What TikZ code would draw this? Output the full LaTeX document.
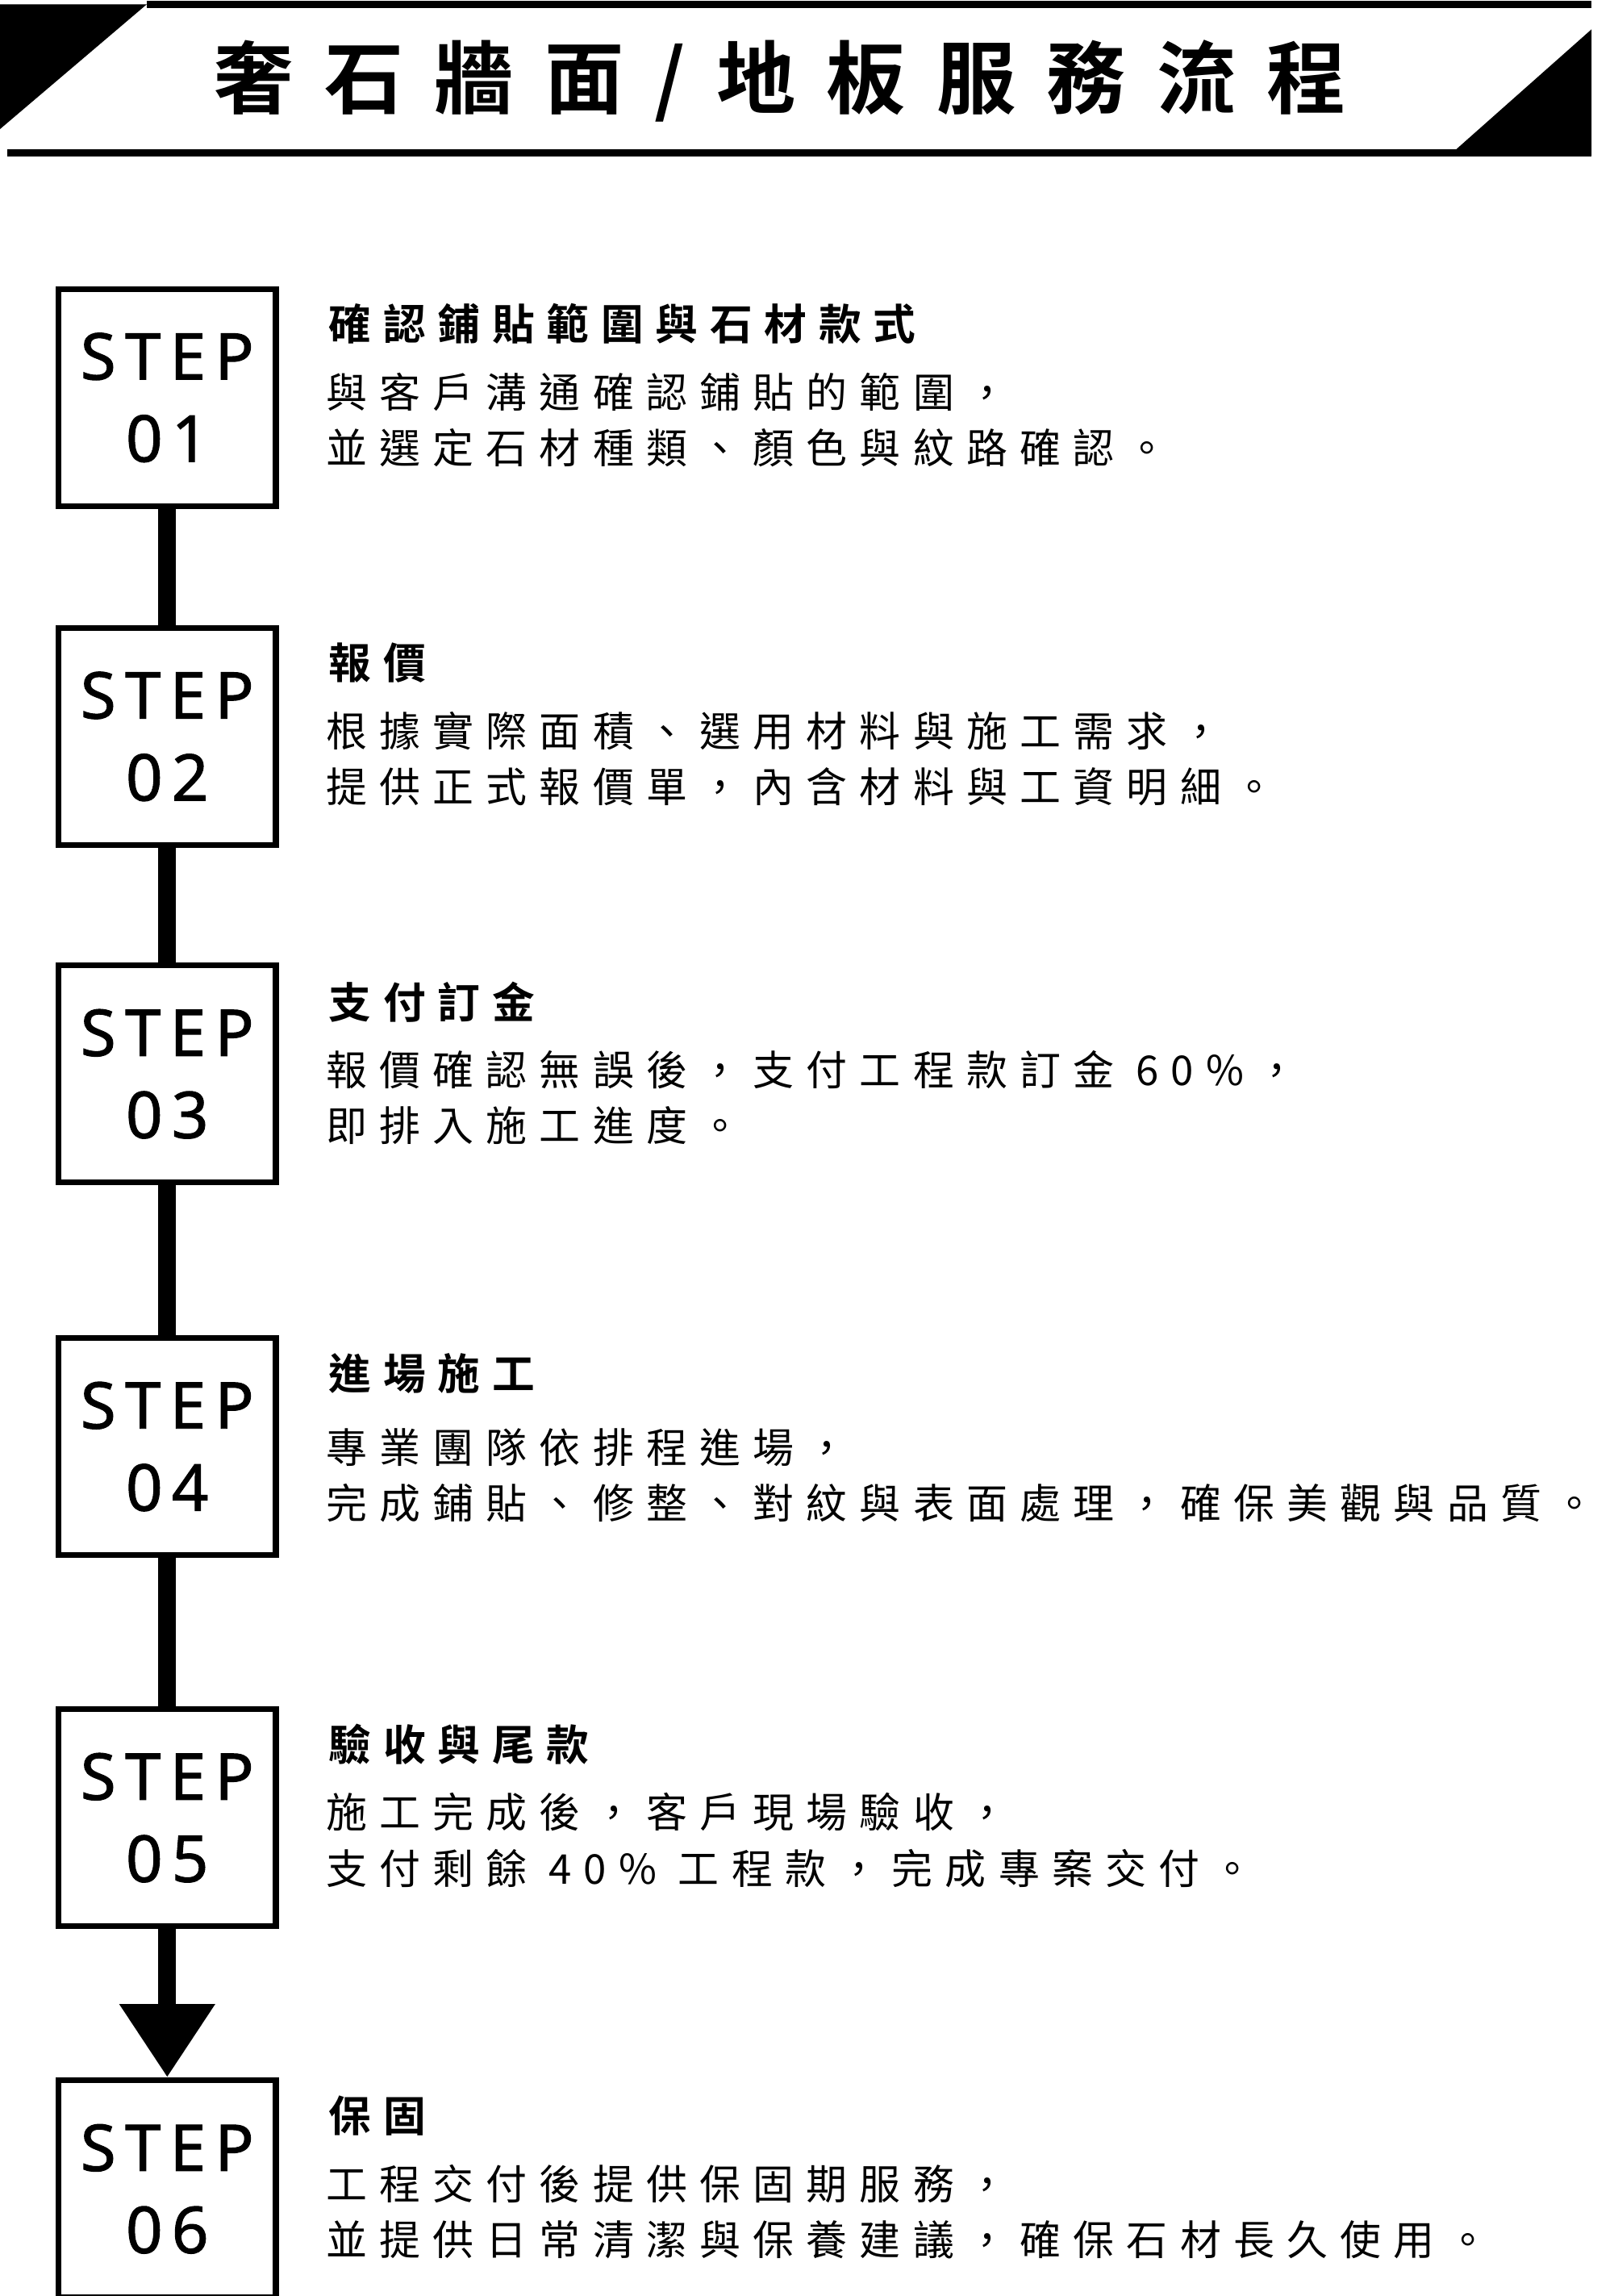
\documentclass[tikz,border=0pt]{standalone}
\usepackage{fontspec}
\usetikzlibrary{arrows.meta}
\newfontfamily\cjk[LetterSpace=30]{Noto Sans CJK TC}
\newfontfamily\cjkbold[LetterSpace=28]{Noto Sans CJK TC Bold}
\newfontfamily\titlefont[LetterSpace=39]{Noto Sans CJK TC Bold}
\newfontfamily\stepfont[LetterSpace=14,FakeBold=1.2]{Noto Sans}

\begin{document}
\begin{tikzpicture}[x=1pt,y=-1pt,
    stepbox/.style={draw,line width=4pt,minimum width=148pt,minimum height=148pt,
      inner sep=0pt,align=center,font=\stepfont\fontsize{44}{56}\selectfont},
    head/.style={anchor=base west,inner sep=0pt,font=\cjkbold\fontsize{29}{30}\selectfont},
    body/.style={anchor=base west,inner sep=0pt,font=\cjk\fontsize{28}{30}\selectfont},
    link/.style={line width=12pt}]
    \useasboundingbox (0,0) rectangle (1100,1565);

    % Title bar
    \fill (0,3) -- (100,3) -- (0,88) -- cycle;
    \draw[line width=5pt] (100,3) -- (1085,3);
    \draw[line width=5pt] (5,104) -- (1085,104);
    \fill (1085,20) -- (1085,106) -- (988,106) -- cycle;
    \node[font=\titlefont\fontsize{54}{60}\selectfont,inner sep=0pt] (title) at (532,55)
      {奢石牆面/地板服務流程};

    % Step boxes
    \foreach \n/\y in {1/271,2/502,3/732,4/986,5/1239,6/1492}
      \node[stepbox] (s\n) at (114,\y) {STEP\\0\n};

    % Connectors
    \foreach \a/\b in {1/2,2/3,3/4,4/5}
      \draw[link] (s\a.south) -- (s\b.north);
    \draw[link,-{Triangle[width=62pt,length=50pt]}] (s5.south) -- (s6.north);

    % Texts
    \node[head] (h1) at (224,232) {確認鋪貼範圍與石材款式};
    \node[body] (t1a) at (222,278) {與客戶溝通確認鋪貼的範圍，};
    \node[body] (t1b) at (222,316) {並選定石材種類、顏色與紋路確認。};

    \node[head] (h2) at (224,463) {報價};
    \node[body] (t2a) at (222,509) {根據實際面積、選用材料與施工需求，};
    \node[body] (t2b) at (222,547) {提供正式報價單，內含材料與工資明細。};

    \node[head] (h3) at (224,694) {支付訂金};
    \node[body] (t3a) at (222,740) {報價確認無誤後，支付工程款訂金 60\%，};
    \node[body] (t3b) at (222,778) {即排入施工進度。};

    \node[head] (h4) at (224,947) {進場施工};
    \node[body] (t4a) at (222,997) {專業團隊依排程進場，};
    \node[body] (t4b) at (222,1035) {完成鋪貼、修整、對紋與表面處理，確保美觀與品質。};

    \node[head] (h5) at (224,1200) {驗收與尾款};
    \node[body] (t5a) at (222,1246) {施工完成後，客戶現場驗收，};
    \node[body] (t5b) at (222,1284) {支付剩餘 40\% 工程款，完成專案交付。};

    \node[head] (h6) at (224,1453) {保固};
    \node[body] (t6a) at (222,1499) {工程交付後提供保固期服務，};
    \node[body] (t6b) at (222,1537) {並提供日常清潔與保養建議，確保石材長久使用。};
\end{tikzpicture}
\end{document}
